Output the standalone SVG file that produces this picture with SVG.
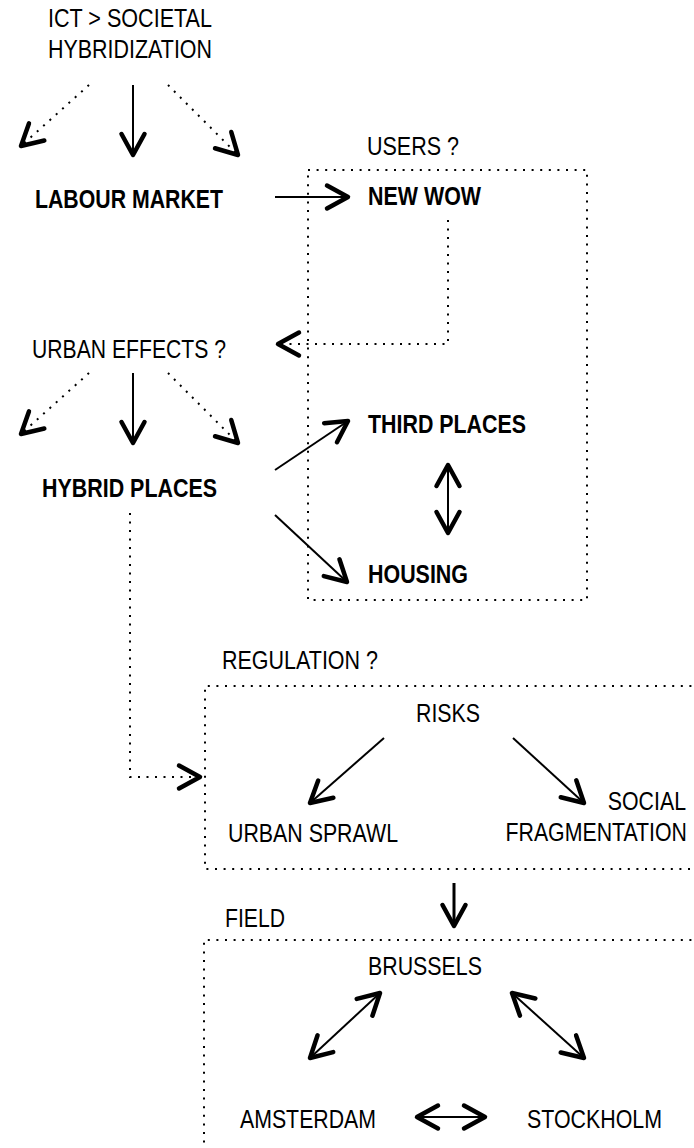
<svg xmlns="http://www.w3.org/2000/svg" width="694" height="1148" viewBox="0 0 694 1148">
<style>
.t{font-family:"Liberation Sans",Arial,sans-serif;font-size:26px;fill:#000}
.b{font-weight:bold}
.m{text-anchor:middle}
.e{text-anchor:end}
.s{fill:none;stroke:#000;stroke-width:2}
.h{fill:none;stroke:#000;stroke-width:3}
.d{fill:none;stroke:#000;stroke-width:2;stroke-dasharray:2 6.5}
.box{fill:none;stroke:#000;stroke-width:2;stroke-dasharray:2 6.6}
</style>
<defs>
<marker id="ah" viewBox="-26 -16 30 32" refX="0" refY="0" markerWidth="30" markerHeight="32" markerUnits="userSpaceOnUse" orient="auto-start-reverse">
<path d="M-21,-11.5 L0,0 L-21,11.5" fill="none" stroke="#000" stroke-width="4.5" stroke-linecap="round" stroke-linejoin="round"/>
</marker>
</defs>
<rect width="694" height="1148" fill="#fff"/>

<g id="boxes">
<rect id="users-box" class="box" x="308" y="170" width="279" height="430"/>
<path id="regulation-box" class="box" d="M700,686 H205 V869 H700"/>
<path id="field-box" class="box" d="M700,940 H204 V1150"/>
</g>

<g id="connectors">
<path class="d" d="M89,85 L21,146" marker-end="url(#ah)"/>
<path class="s" d="M133,85 V155" marker-end="url(#ah)"/>
<path class="d" d="M168,85 L238,155" marker-end="url(#ah)"/>
<path class="s" d="M275,197 H348" marker-end="url(#ah)"/>
<path class="d" d="M448,220 V344 H278" marker-end="url(#ah)"/>
<path class="d" d="M89,373 L21,434" marker-end="url(#ah)"/>
<path class="s" d="M133,373 V443" marker-end="url(#ah)"/>
<path class="d" d="M168,373 L238,443" marker-end="url(#ah)"/>
<path class="s" d="M275,470 L348,421" marker-end="url(#ah)"/>
<path class="s" d="M275,515 L347,582" marker-end="url(#ah)"/>
<path class="s" d="M448,465 V533" marker-start="url(#ah)" marker-end="url(#ah)"/>
<path class="d" d="M130,513 V777 H200" marker-end="url(#ah)"/>
<path class="s" d="M384,738 L310,803" marker-end="url(#ah)"/>
<path class="s" d="M513,738 L584,803" marker-end="url(#ah)"/>
<path class="h" d="M454,883 V926" marker-end="url(#ah)"/>
<path class="s" d="M380,993 L310,1058" marker-start="url(#ah)" marker-end="url(#ah)"/>
<path class="s" d="M512,993 L584,1058" marker-start="url(#ah)" marker-end="url(#ah)"/>
<path class="s" d="M417,1117 H485" marker-start="url(#ah)" marker-end="url(#ah)"/>
</g>

<g id="ict"><text class="t m" x="130" y="27" textLength="164" lengthAdjust="spacingAndGlyphs">ICT &gt; SOCIETAL</text><text class="t m" x="130" y="58" textLength="164" lengthAdjust="spacingAndGlyphs">HYBRIDIZATION</text></g>
<g id="labour-market"><text class="t b" x="35" y="208" textLength="188" lengthAdjust="spacingAndGlyphs">LABOUR MARKET</text></g>
<g id="users"><text class="t" x="367" y="155" textLength="92" lengthAdjust="spacingAndGlyphs">USERS ?</text></g>
<g id="new-wow"><text class="t b" x="368" y="205" textLength="113" lengthAdjust="spacingAndGlyphs">NEW WOW</text></g>
<g id="urban-effects"><text class="t m" x="129" y="358" textLength="194" lengthAdjust="spacingAndGlyphs">URBAN EFFECTS ?</text></g>
<g id="hybrid-places"><text class="t b" x="42" y="497" textLength="175" lengthAdjust="spacingAndGlyphs">HYBRID PLACES</text></g>
<g id="third-places"><text class="t b" x="368" y="433" textLength="158" lengthAdjust="spacingAndGlyphs">THIRD PLACES</text></g>
<g id="housing"><text class="t b" x="368" y="583" textLength="100" lengthAdjust="spacingAndGlyphs">HOUSING</text></g>
<g id="regulation"><text class="t" x="222" y="669" textLength="156" lengthAdjust="spacingAndGlyphs">REGULATION ?</text></g>
<g id="risks"><text class="t" x="416" y="722" textLength="64" lengthAdjust="spacingAndGlyphs">RISKS</text></g>
<g id="urban-sprawl"><text class="t" x="228" y="842" textLength="170" lengthAdjust="spacingAndGlyphs">URBAN SPRAWL</text></g>
<g id="social-fragmentation"><text class="t e" transform="translate(686,810) scale(0.82,1)" x="0" y="0">SOCIAL</text><text class="t e" transform="translate(687,841) scale(0.82,1)" x="0" y="0">FRAGMENTATION</text></g>
<g id="field"><text class="t" x="225" y="927" textLength="60" lengthAdjust="spacingAndGlyphs">FIELD</text></g>
<g id="brussels"><text class="t" x="368" y="975" textLength="114" lengthAdjust="spacingAndGlyphs">BRUSSELS</text></g>
<g id="amsterdam"><text class="t" x="240" y="1128" textLength="136" lengthAdjust="spacingAndGlyphs">AMSTERDAM</text></g>
<g id="stockholm"><text class="t" x="527" y="1128" textLength="135" lengthAdjust="spacingAndGlyphs">STOCKHOLM</text></g>
</svg>
